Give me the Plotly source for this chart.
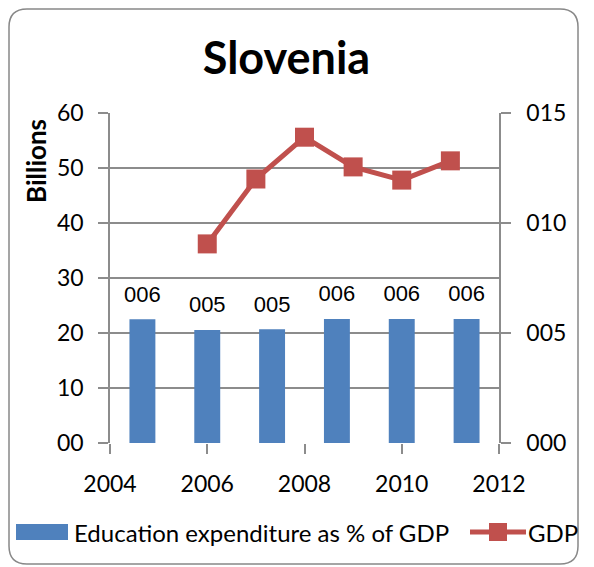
import plotly.graph_objects as go

# data
gdp_years = [2006, 2007, 2008, 2009, 2010, 2011]
gdp_billions = [36.2, 48.0, 55.6, 50.2, 47.8, 51.3]

edu_categories = ['2006', '2007', '2008', '2009', '2010', '2011']
edu_pct = [5.62, 5.14, 5.17, 5.64, 5.64, 5.64]

left_ticks = [0, 10, 20, 30, 40, 50, 60]
right_ticks = [0, 5, 10, 15]
x_ticks = [2004, 2006, 2008, 2010, 2012]

# the page body adds an 8px margin, so the figure is laid out 8px up/left
OFF = 8
W, H = 594 - OFF, 567 - OFF
ML, MT = 110 - OFF, 113 - OFF
PW, PH = 389, 330
MR, MB = W - ML - PW, H - MT - PH

FONT = 'Lato, Carlito, Calibri, sans-serif'
GRID = '#8c8c8c'
BLUE = '#4F81BD'
RED = '#C0504D'


def px(x):
    # screen x (as in the reference) -> paper
    return (x - OFF - ML) / PW


def py(y):
    # screen y (as in the reference) -> paper
    return (MT + PH - (y - OFF)) / PH


fig = go.Figure()

fig.add_trace(go.Bar(x=edu_categories, y=edu_pct, xaxis='x2', yaxis='y2',
                     marker=dict(color=BLUE, line=dict(width=0)), width=0.4,
                     name='Education expenditure as % of GDP', showlegend=False))

# bar value labels (invisible markers push the text up off the bar tops)
fig.add_trace(go.Scatter(x=edu_categories, y=edu_pct, xaxis='x2', yaxis='y2',
                         mode='markers+text', text=[f'{round(v):03d}' for v in edu_pct],
                         textposition='top center', marker=dict(size=18, opacity=0),
                         textfont=dict(family='Liberation Sans, Arial', size=22, color='black'),
                         showlegend=False, hoverinfo='skip', cliponaxis=False))

fig.add_trace(go.Scatter(x=gdp_years, y=gdp_billions, mode='lines+markers',
                         line=dict(color=RED, width=5),
                         marker=dict(symbol='square', size=19, color=RED),
                         name='GDP', showlegend=False, cliponaxis=False))

fig.update_layout(
    width=W, height=H,
    margin=dict(l=ML, r=MR, t=MT, b=MB),
    paper_bgcolor='white', plot_bgcolor='white',
    font=dict(family=FONT, size=23, color='black'),
    title=dict(text='<b>Slovenia</b>', x=(286.5 - OFF) / W, xanchor='center',
               y=1 - (58 - OFF) / H, yanchor='middle', font=dict(size=45, family=FONT)),
    xaxis=dict(range=[2004, 2012], tickvals=x_ticks, showgrid=False,
               showline=False, zeroline=False, ticks='outside', ticklen=10,
               tickcolor=GRID, tickwidth=1.5, ticklabelstandoff=10),
    xaxis2=dict(type='category', range=[-0.5, 5.5], overlaying='x', showgrid=False,
                showline=False, zeroline=False, showticklabels=False, ticks=''),
    yaxis=dict(range=[0, 60], tickvals=left_ticks, tickformat='02d',
               showgrid=True, gridcolor=GRID, gridwidth=1.5,
               showline=True, linecolor=GRID, linewidth=1.5, zeroline=False,
               ticks='outside', ticklen=10, tickcolor=GRID, tickwidth=1.5,
               ticklabelstandoff=10),
    yaxis2=dict(range=[0, 15], tickvals=right_ticks, tickformat='03d',
                overlaying='y', side='right', anchor='x', showgrid=False,
                showline=True, linecolor=GRID, linewidth=1.5, zeroline=False,
                ticks='outside', ticklen=10, tickcolor=GRID, tickwidth=1.5,
                ticklabelstandoff=11),
)

# y axis title
fig.add_annotation(text='<b>Billions</b>', textangle=-90, xref='paper', yref='paper',
                   x=px(36), y=py(161), xanchor='center', yanchor='middle',
                   showarrow=False, font=dict(size=26, family=FONT))

# manual legend
fig.add_shape(type='rect', xref='paper', yref='paper', x0=px(16), x1=px(68),
              y0=py(540), y1=py(524), fillcolor=BLUE, line=dict(width=0))
fig.add_annotation(text='Education expenditure as % of GDP', xref='paper', yref='paper',
                   x=px(72), y=py(532), xanchor='left', yanchor='middle', showarrow=False,
                   font=dict(size=24, family=FONT))
fig.add_shape(type='line', xref='paper', yref='paper', x0=px(470), x1=px(526),
              y0=py(532), y1=py(532), line=dict(color=RED, width=5))
fig.add_shape(type='rect', xref='paper', yref='paper', x0=px(489), x1=px(507),
              y0=py(541), y1=py(523), fillcolor=RED, line=dict(width=0))
fig.add_annotation(text='GDP', xref='paper', yref='paper',
                   x=px(526), y=py(532), xanchor='left', yanchor='middle', showarrow=False,
                   font=dict(size=24, family=FONT))

# rounded chart border
x0, x1, y0, y1, r = 9, 578, 9, 564, 18
path = (f'M {px(x0 + r)} {py(y0)} L {px(x1 - r)} {py(y0)} '
        f'Q {px(x1)} {py(y0)} {px(x1)} {py(y0 + r)} L {px(x1)} {py(y1 - r)} '
        f'Q {px(x1)} {py(y1)} {px(x1 - r)} {py(y1)} L {px(x0 + r)} {py(y1)} '
        f'Q {px(x0)} {py(y1)} {px(x0)} {py(y1 - r)} L {px(x0)} {py(y0 + r)} '
        f'Q {px(x0)} {py(y0)} {px(x0 + r)} {py(y0)} Z')
fig.add_shape(type='path', xref='paper', yref='paper', path=path,
              line=dict(color='#888888', width=1.5), layer='below')

fig.write_html('out.html')
